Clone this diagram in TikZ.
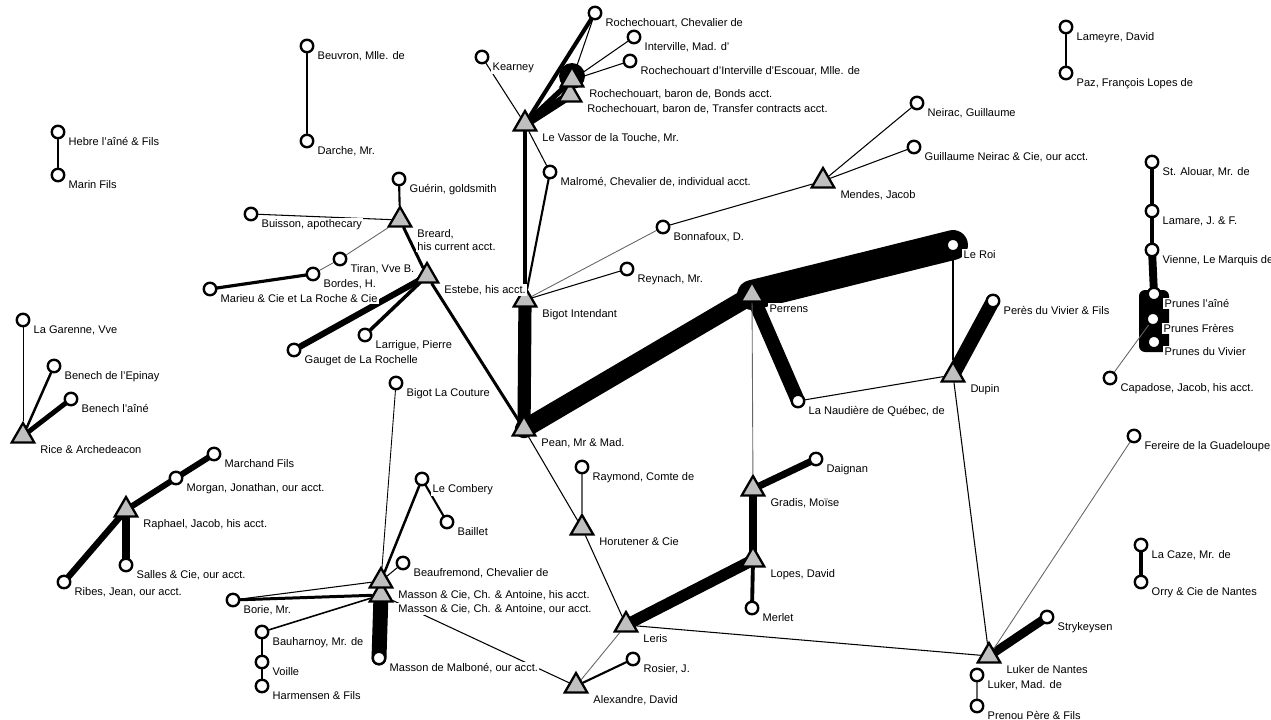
\documentclass[tikz,border=0pt]{standalone}
\usepackage{fontspec}
\setmainfont{Liberation Sans}
\usetikzlibrary{shapes.geometric}
\usetikzlibrary{backgrounds}

\begin{document}
\begin{tikzpicture}[
  x=0.02cm, y=-0.02cm,
  font=\fontsize{6.3}{7.3}\selectfont,
  actor/.style={circle, draw, fill=white, line width=1.35pt, inner sep=0pt, minimum size=0.25cm},
  firm/.style={regular polygon, regular polygon sides=3, draw, fill=black!25, line width=1.3pt, inner sep=0pt, minimum size=0.52cm},
  every label/.style={fill=white, inner sep=0.8pt, xshift=0.05cm, align=left},
  label position=-30,
  every path/.style={line cap=round},
]
  \useasboundingbox (0,0) rectangle (1271,720);

  % Nodes
  \node[firm, label={Le Vassor de la Touche, Mr.}] (levassor) at (525,124) {};
  \node[firm, label={Rochechouart, baron de, Transfer contracts acct.}] (transfer) at (570,95) {};
  \node[firm, label={Rochechouart, baron de, Bonds acct.}] (bonds) at (572,80) {};
  \node[firm, label={Bigot Intendant}] (bigoti) at (525,300) {};
  \node[firm, label={Pean, Mr \& Mad.}] (pean) at (524,429) {};
  \node[firm, label={Mendes, Jacob}] (mendes) at (823,181) {};
  \node[firm, label={Perrens}] (perrens) at (752,295) {};
  \node[firm, label={Dupin}] (dupin) at (953,375) {};
  \node[firm, label={Gradis, Moïse}] (gradis) at (753,489) {};
  \node[firm, label={Lopes, David}] (lopes) at (753,560) {};
  \node[firm, label={Horutener \& Cie}] (horutener) at (582,528) {};
  \node[firm, label={Leris}] (leris) at (626,625) {};
  \node[firm, label={Alexandre, David}] (alexandre) at (576,686) {};
  \node[firm, label={Luker de Nantes}] (lukern) at (989,656) {};
  \node[firm, label={Breard,\\his current acct.}] (breard) at (400,220) {};
  \node[firm, label={Estebe, his acct.}] (estebe) at (427,276) {};
  \node[firm, label={Rice \& Archedeacon}] (rice) at (23,436) {};
  \node[firm, label={Raphael, Jacob, his acct.}] (raphael) at (126,510) {};
  \node[firm, label={Masson \& Cie, Ch. \& Antoine, our acct.}] (massonour) at (381,595) {};
  \node[firm, label={Masson \& Cie, Ch. \& Antoine, his acct.}] (massonhis) at (381,581) {};

  \node[actor, label={Rochechouart, Chevalier de}] (rcheval) at (595,13) {};
  \node[actor, label={Interville, Mad. d'}] (interville) at (634,37) {};
  \node[actor, label={Rochechouart d'Interville d'Escouar, Mlle. de}] (rinterv) at (630,61) {};
  \node[actor, label={Kearney}] (kearney) at (482,57) {};
  \node[actor, label={Malromé, Chevalier de, individual acct.}] (malrome) at (550,172) {};
  \node[actor, label={Bonnafoux, D.}] (bonnafoux) at (663,227) {};
  \node[actor, label={Reynach, Mr.}] (reynach) at (627,269) {};
  \node[actor, label={Neirac, Guillaume}] (neirac) at (917,103) {};
  \node[actor, label={Guillaume Neirac \& Cie, our acct.}] (neiraccie) at (914,147) {};
  \node[actor, label={Le Roi}] (leroi) at (953,245) {};
  \node[actor, label={Perès du Vivier \& Fils}] (peres) at (993,301) {};
  \node[actor, label={La Naudière de Québec, de}] (naudiere) at (798,401) {};
  \node[actor, label={Daignan}] (daignan) at (816,459) {};
  \node[actor, label={Merlet}] (merlet) at (752,608) {};
  \node[actor, label={Raymond, Comte de}] (raymond) at (582,467) {};
  \node[actor, label={Rosier, J.}] (rosier) at (633,659) {};
  \node[actor, label={Strykeysen}] (stryk) at (1047,617) {};
  \node[actor, label={Fereire de la Guadeloupe}] (fereire) at (1134,436) {};
  \node[actor, label={Luker, Mad. de}] (lukermad) at (977,675) {};
  \node[actor, label={Prenou Père \& Fils}] (prenou) at (977,706) {};
  \node[actor, label={La Caze, Mr. de}] (lacaze) at (1141,545) {};
  \node[actor, label={Orry \& Cie de Nantes}] (orry) at (1141,582) {};
  \node[actor, label={St. Alouar, Mr. de}] (stalouar) at (1152,162) {};
  \node[actor, label={Lamare, J. \& F.}] (lamare) at (1152,211) {};
  \node[actor, label={Vienne, Le Marquis de}] (vienne) at (1152,250) {};
  \node[actor, label={Prunes l'aîné}] (prunesa) at (1154,294) {};
  \node[actor, label={Prunes Frères}] (prunesf) at (1153,319) {};
  \node[actor, label={Prunes du Vivier}] (prunesv) at (1154,342) {};
  \node[actor, label={Capadose, Jacob, his acct.}] (capadose) at (1110,378) {};
  \node[actor, label={Lameyre, David}] (lameyre) at (1066,27) {};
  \node[actor, label={Paz, François Lopes de}] (paz) at (1066,73) {};
  \node[actor, label={Beuvron, Mlle. de}] (beuvron) at (307,46) {};
  \node[actor, label={Darche, Mr.}] (darche) at (307,141) {};
  \node[actor, label={Hebre l'aîné \& Fils}] (hebre) at (58,132) {};
  \node[actor, label={Marin Fils}] (marin) at (58,175) {};
  \node[actor, label={Guérin, goldsmith}] (guerin) at (399,179) {};
  \node[actor, label={Buisson, apothecary}] (buisson) at (251,214) {};
  \node[actor, label={Tiran, Vve B.}] (tiran) at (340,259) {};
  \node[actor, label={Bordes, H.}] (bordes) at (313,274) {};
  \node[actor, label={Marieu \& Cie et La Roche \& Cie}] (marieu) at (210,289) {};
  \node[actor, label={Larrigue, Pierre}] (larrigue) at (365,335) {};
  \node[actor, label={Gauget de La Rochelle}] (gauget) at (294,350) {};
  \node[actor, label={Bigot La Couture}] (bigotlc) at (396,383) {};
  \node[actor, label={La Garenne, Vve}] (lagarenne) at (23,320) {};
  \node[actor, label={Benech de l'Epinay}] (benechep) at (54,366) {};
  \node[actor, label={Benech l'aîné}] (benechai) at (71,399) {};
  \node[actor, label={Marchand Fils}] (marchand) at (214,454) {};
  \node[actor, label={Morgan, Jonathan, our acct.}] (morgan) at (176,478) {};
  \node[actor, label={Salles \& Cie, our acct.}] (salles) at (126,565) {};
  \node[actor, label={Ribes, Jean, our acct.}] (ribes) at (64,582) {};
  \node[actor, label={Le Combery}] (lecombery) at (422,479) {};
  \node[actor, label={Baillet}] (baillet) at (447,522) {};
  \node[actor, label={Beaufremond, Chevalier de}] (beaufremond) at (403,563) {};
  \node[actor, label={Borie, Mr.}] (borie) at (233,600) {};
  \node[actor, label={Bauharnoy, Mr. de}] (bauharnoy) at (262,632) {};
  \node[actor, label={Voille}] (voille) at (262,662) {};
  \node[actor, label={Harmensen \& Fils}] (harmensen) at (262,686) {};
  \node[actor, label={Masson de Malboné, our acct.}] (malbone) at (379,658) {};

  % Edges
  \begin{scope}[on background layer]
  \fill (bonds.center) ++(0,-4) circle (0.26cm);
  \fill[rounded corners=0.12cm] ([shift={(-0.3cm,0.08cm)}]prunesa.center) rectangle ([shift={(0.3cm,-0.2cm)}]prunesv.center);

  \draw[line width=2.3pt] (levassor.center) -- (rcheval.center);
  \draw[line width=0.6pt] (rcheval) -- (bonds);
  \draw[line width=0.6pt] (interville) -- (bonds);
  \draw[line width=0.6pt] (rinterv) -- (bonds);
  \draw[line width=5pt] (levassor.center) -- (transfer.center);
  \draw[line width=3pt] (levassor.center) -- (bonds.center);
  \draw[line width=0.6pt] (kearney) -- (levassor);
  \draw[line width=0.6pt] (levassor) -- (malrome);
  \draw[line width=2.4pt] (levassor.center) -- (bigoti.center);
  \draw[line width=1.2pt] (malrome) -- (bigoti);
  \draw[line width=7.5pt] (bigoti.center) -- (pean.center);
  \draw[line width=0.5pt, black!60] (bigoti) -- (bonnafoux);
  \draw[line width=0.6pt] (bigoti) -- (reynach);
  \draw[line width=0.6pt] (bonnafoux) -- (mendes);
  \draw[line width=0.6pt] (mendes) -- (neirac);
  \draw[line width=0.6pt] (mendes) -- (neiraccie);
  \draw[line width=10.5pt] (pean.center) -- (perrens.center);
  \draw[line width=17pt] (perrens.center) -- (leroi.center);
  \draw[line width=8pt] (perrens.center) -- (naudiere.center);
  \draw[line width=0.5pt, black!60] (perrens) -- (gradis);
  \draw[line width=0.6pt] (leroi) -- (dupin);
  \draw[line width=8pt] (dupin.center) -- (peres.center);
  \draw[line width=0.6pt] (dupin) -- (naudiere);
  \draw[line width=0.6pt] (dupin) -- (lukern);
  \draw[line width=4pt] (gradis.center) -- (daignan.center);
  \draw[line width=4pt] (gradis.center) -- (lopes.center);
  \draw[line width=2.2pt] (lopes.center) -- (merlet.center);
  \draw[line width=6.5pt] (lopes.center) -- (leris.center);
  \draw[line width=0.6pt] (leris) -- (lukern);
  \draw[line width=0.5pt, black!60] (leris) -- (alexandre);
  \draw[line width=0.6pt] (pean) -- (horutener);
  \draw[line width=0.6pt] (horutener) -- (leris);
  \draw[line width=0.8pt, black!60] (raymond) -- (horutener);
  \draw[line width=1.2pt] (alexandre) -- (rosier);
  \draw[line width=0.6pt] (massonour) -- (alexandre);
  \draw[line width=5pt] (lukern.center) -- (stryk.center);
  \draw[line width=0.5pt, black!60] (lukern) -- (fereire);
  \draw[line width=0.6pt, black!60] (lukermad) -- (prenou);
  \draw[line width=2.3pt] (lacaze.center) -- (orry.center);
  \draw[line width=2.3pt] (stalouar.center) -- (lamare.center);
  \draw[line width=2.3pt] (lamare.center) -- (vienne.center);
  \draw[line width=4.5pt] (vienne.center) -- (prunesa.center);
  \draw[line width=0.5pt, black!60] (capadose) -- (prunesf);
  \draw[line width=0.8pt] (lameyre) -- (paz);
  \draw[line width=0.8pt] (beuvron) -- (darche);
  \draw[line width=0.8pt] (hebre) -- (marin);
  \draw[line width=1.2pt] (guerin) -- (breard);
  \draw[line width=0.6pt] (buisson) -- (breard);
  \draw[line width=0.5pt, black!60] (breard) -- (tiran);
  \draw[line width=0.5pt, black!60] (tiran) -- (bordes);
  \draw[line width=1.8pt] (bordes.center) -- (marieu.center);
  \draw[line width=1.7pt] (breard) -- (estebe);
  \draw[line width=3.5pt] (estebe.center) -- (gauget.center);
  \draw[line width=2pt] (estebe.center) -- (larrigue.center);
  \draw[line width=1.7pt] (estebe) -- (pean);
  \draw[line width=0.5pt] (bigotlc) -- (massonhis);
  \draw[line width=0.5pt] (lagarenne) -- (rice);
  \draw[line width=1.4pt] (benechep) -- (rice);
  \draw[line width=2.8pt] (benechai.center) -- (rice.center);
  \draw[line width=3.4pt] (marchand.center) -- (morgan.center);
  \draw[line width=3.4pt] (morgan.center) -- (raphael.center);
  \draw[line width=3.6pt] (raphael.center) -- (ribes.center);
  \draw[line width=4pt] (raphael.center) -- (salles.center);
  \draw[line width=1.4pt] (lecombery) -- (massonhis);
  \draw[line width=1.2pt] (lecombery) -- (baillet);
  \draw[line width=0.6pt] (beaufremond) -- (massonhis);
  \draw[line width=0.6pt] (borie) -- (massonhis);
  \draw[line width=1.7pt] (borie) -- (massonour);
  \draw[line width=0.9pt] (bauharnoy) -- (massonour);
  \draw[line width=1.7pt] (bauharnoy) -- (voille);
  \draw[line width=1.7pt] (voille) -- (harmensen);
  \draw[line width=8.5pt] (massonour.center) -- (malbone.center);
  \end{scope}

\end{tikzpicture}
\end{document}
